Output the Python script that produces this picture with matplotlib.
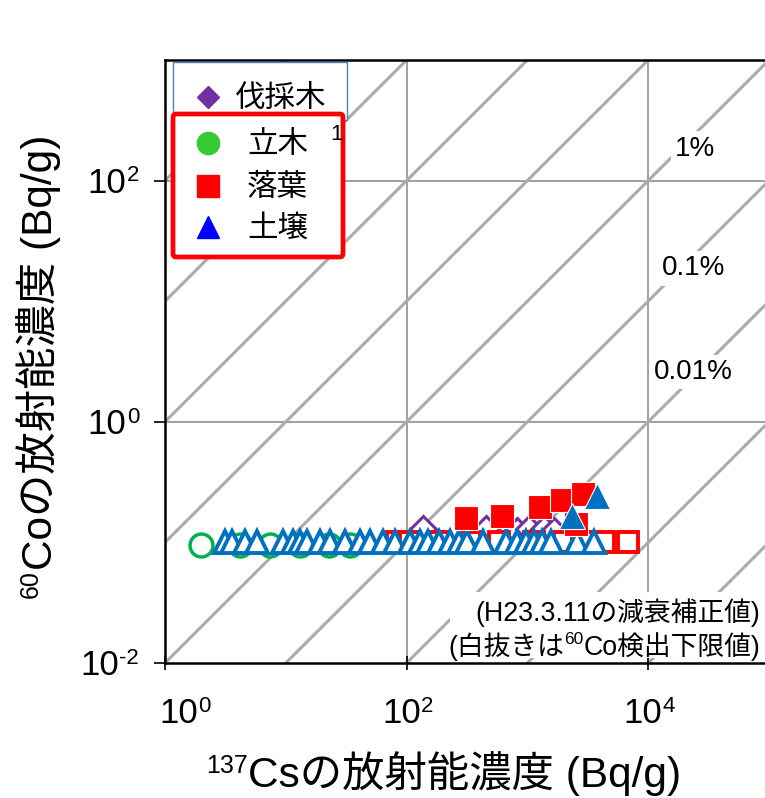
import math
import matplotlib
matplotlib.use("Agg")
import matplotlib.pyplot as plt
from matplotlib.lines import Line2D
from matplotlib.patches import Rectangle, FancyBboxPatch
from matplotlib.ticker import FixedLocator, NullFormatter, NullLocator

plt.rcParams['font.family'] = ['Liberation Sans', 'Noto Sans CJK JP', 'DejaVu Sans']

# ---- data (Bq/g, decay-corrected to 2011-03-11) ----
# 伐採木 (felled trees): 60Co below detection limit
felled_cs = [136, 458, 827, 1040, 1380, 1670]
felled_co_dl = [0.13, 0.13, 0.125, 0.13, 0.13, 0.125]

# 立木 (standing trees): 60Co below detection limit
standing_cs = [2.0, 4.2, 7.4, 13.0, 23.0, 34.0]
standing_co_dl = [0.096, 0.096, 0.096, 0.096, 0.096, 0.096]

# 落葉 (fallen leaves)
leaves_cs = [313, 620, 1280, 1950, 2540, 2900]
leaves_co = [0.158, 0.167, 0.195, 0.226, 0.141, 0.254]
leaves_dl_cs = [84, 106, 187, 332, 587, 1140, 2020, 2850, 4330, 6830]
leaves_co_dl = [0.10, 0.10, 0.10, 0.10, 0.10, 0.10, 0.10, 0.10, 0.10, 0.10]

# 土壌 (soil)
soil_cs = [2350, 3790]
soil_co = [0.166, 0.242]
soil_dl_cs = [3.13, 3.58, 4.58, 5.76, 9.44, 11.4, 13.1, 14.9, 19.1, 23.1,
              30.7, 40.9, 49.5, 63.4, 79.6, 106, 128, 149, 187, 227,
              274, 319, 425, 671, 827, 981, 1143, 1331, 1578, 2590, 3580]
soil_co_dl = [0.10] * 31

# Co/Cs ratio guide lines (10^k)
ratio_exponents = [-9, -8, -7, -6, -5, -4, -3, -2, -1, 0, 1, 2, 3, 4]
ratio_labels = ['1%', '0.1%', '0.01%']

x_ticks = [1, 100, 10000]
y_ticks = [0.01, 1, 100]

W, H = 765, 798
fig = plt.figure(figsize=(W / 100, H / 100), dpi=100)


def F(px, py):
    return (px / W, 1 - py / H)


ax = fig.add_axes([165 / W, 135 / H, 604 / W, 603 / H])
ax.set_xscale('log')
ax.set_yscale('log')
ax.set_xlim(1, 1e5)
ax.set_ylim(1e-2, 1e3)
ax.set_autoscale_on(False)

grid_c = '#A0A0A0'
for v in [100, 10000]:
    ax.axvline(v, color=grid_c, lw=1.4, zorder=0.5)
for v in [1, 100]:
    ax.axhline(v, color=grid_c, lw=1.4, zorder=0.5)

for k in ratio_exponents:
    r = 10.0 ** k
    ax.plot([1e-3, 1e8], [r * 1e-3, r * 1e8], color='#ABABAB', lw=2.2,
            zorder=1, solid_capstyle='butt')

for (lbl, lx, ly) in zip(ratio_labels, [24400, 23550, 23550], [184, 18.7, 2.59]):
    ax.text(lx, ly, lbl, fontsize=20, ha='center', va='center', zorder=2,
            bbox=dict(boxstyle='square,pad=0.15', fc='white', ec='none'))

# markers
ax.plot(felled_cs, felled_co_dl, ls='none', marker='D', ms=13, mfc='white',
        mec='#7030A0', mew=2.2, zorder=3)
ax.plot(standing_cs, standing_co_dl, ls='none', marker='o', ms=16.5, mfc='white',
        mec='#00B050', mew=2.5, zorder=4)
ax.plot(leaves_dl_cs, leaves_co_dl, ls='none', marker='s', ms=15, mfc='white',
        mec='#FF0000', mew=2.8, zorder=5)
ax.plot(soil_dl_cs, soil_co_dl, ls='none', marker='^', ms=16.5, mfc='white',
        mec='#0070C0', mew=2.8, zorder=6)
ax.plot(leaves_cs, leaves_co, ls='none', marker='s', ms=17, mfc='#FF0000',
        mec='white', mew=0.8, zorder=7)
ax.plot(soil_cs, soil_co, ls='none', marker='^', ms=19, mfc='#0070C0',
        mec='white', mew=0.8, zorder=8)

# axes styling
for s in ['left', 'bottom', 'top']:
    ax.spines[s].set_linewidth(1.8)
    ax.spines[s].set_color('black')
ax.spines['right'].set_visible(False)

ax.xaxis.set_major_locator(FixedLocator(x_ticks))
ax.yaxis.set_major_locator(FixedLocator(y_ticks))
ax.xaxis.set_minor_locator(NullLocator())
ax.yaxis.set_minor_locator(NullLocator())
ax.xaxis.set_major_formatter(NullFormatter())
ax.yaxis.set_major_formatter(NullFormatter())
ax.tick_params(axis='x', direction='inout', length=10, width=1.2)
ax.tick_params(axis='y', direction='out', length=8, width=1.2)

# ---- legend boxes ----
fig.add_artist(Rectangle(F(173, 120), 174 / W, 58 / H, transform=fig.transFigure,
                         fc='white', ec='#4F81BD', lw=1.0, zorder=5))
fig.add_artist(Line2D([F(208, 97)[0]], [F(208, 97)[1]], marker='D', ms=11,
                      color='#7030A0', transform=fig.transFigure, zorder=6))
fig.text(*F(235, 99), '伐採木', fontsize=22, ha='left', va='center', zorder=6)

fig.add_artist(FancyBboxPatch(F(173, 257), 170 / W, 143 / H,
                              boxstyle='round,pad=0,rounding_size=0.004',
                              transform=fig.transFigure, fc='white', ec='#FF0000',
                              lw=3.4, zorder=7))
legend_items = [('立木', 'o', '#33CC33', 143), ('落葉', 's', '#FF0000', 186),
                ('土壌', '^', '#0000FF', 227)]
for name, mk, col, py in legend_items:
    fig.add_artist(Line2D([F(208, py)[0]], [F(208, py)[1]], marker=mk, ms=16,
                          color=col, transform=fig.transFigure, zorder=8))
    fig.text(*F(247, py + 2), name, fontsize=22, ha='left', va='center', zorder=8)
fig.text(*F(337, 134), '1', fontsize=16, ha='center', va='center', zorder=8)


# ---- mixed text with superscripts ----
def rich_text(runs, px, py, rotation=0, align='center'):
    """runs: (string, fontsize, rise_pts). (px, py): baseline anchor in pixels from top."""
    renderer = fig.canvas.get_renderer()
    widths = []
    for s, fs, rise in runs:
        t = fig.text(0, 0, s, fontsize=fs)
        widths.append(t.get_window_extent(renderer).width)
        t.remove()
    total = sum(widths)
    if align == 'center':
        start = -total / 2
    elif align == 'right':
        start = -total
    else:
        start = 0
    base_x, base_y = px, H - py
    pos = start
    for (s, fs, rise), w in zip(runs, widths):
        r = rise * 100 / 72
        if rotation == 0:
            x, y = base_x + pos, base_y + r
        else:
            x, y = base_x - r, base_y + pos
        fig.text(x / W, y / H, s, fontsize=fs, rotation=rotation,
                 rotation_mode='anchor', ha='left', va='baseline', zorder=9)
        pos += w


def power_runs(v):
    return [('10', 25, 0), ('%d' % round(math.log10(v)), 16, 8)]


# tick labels placed from the axis transforms; the first x label is kept
# clear of the left edge of the plot
for i, v in enumerate(x_ticks):
    px = ax.transData.transform((v, 1))[0]
    if i == 0:
        rich_text(power_runs(v), 159, 723, align='left')
    else:
        rich_text(power_runs(v), px + 1, 723)
for v in y_ticks:
    py = H - ax.transData.transform((1, v))[1]
    rich_text(power_runs(v), 139, py + 12, align='right')

rich_text([('137', 18, 10), ('Csの放射能濃度 (Bq/g)', 30.5, 0)], 444, 787)
rich_text([('60', 18, 10), ('Coの放射能濃度 (Bq/g)', 30.5, 0)], 52, 366, rotation=90)

# annotation in lower right with white backing
fig.add_artist(Rectangle(F(450, 658), 313 / W, 66 / H, transform=fig.transFigure,
                         fc='white', ec='none', zorder=2))
rich_text([('(H23.3.11の減衰補正値)', 19.3, 0)], 760, 621, align='right')
rich_text([('(白抜きは', 19.3, 0), ('60', 12.5, 8), ('Co検出下限値)', 19.3, 0)],
          760, 655, align='right')

fig.savefig('out.png', dpi=100)
